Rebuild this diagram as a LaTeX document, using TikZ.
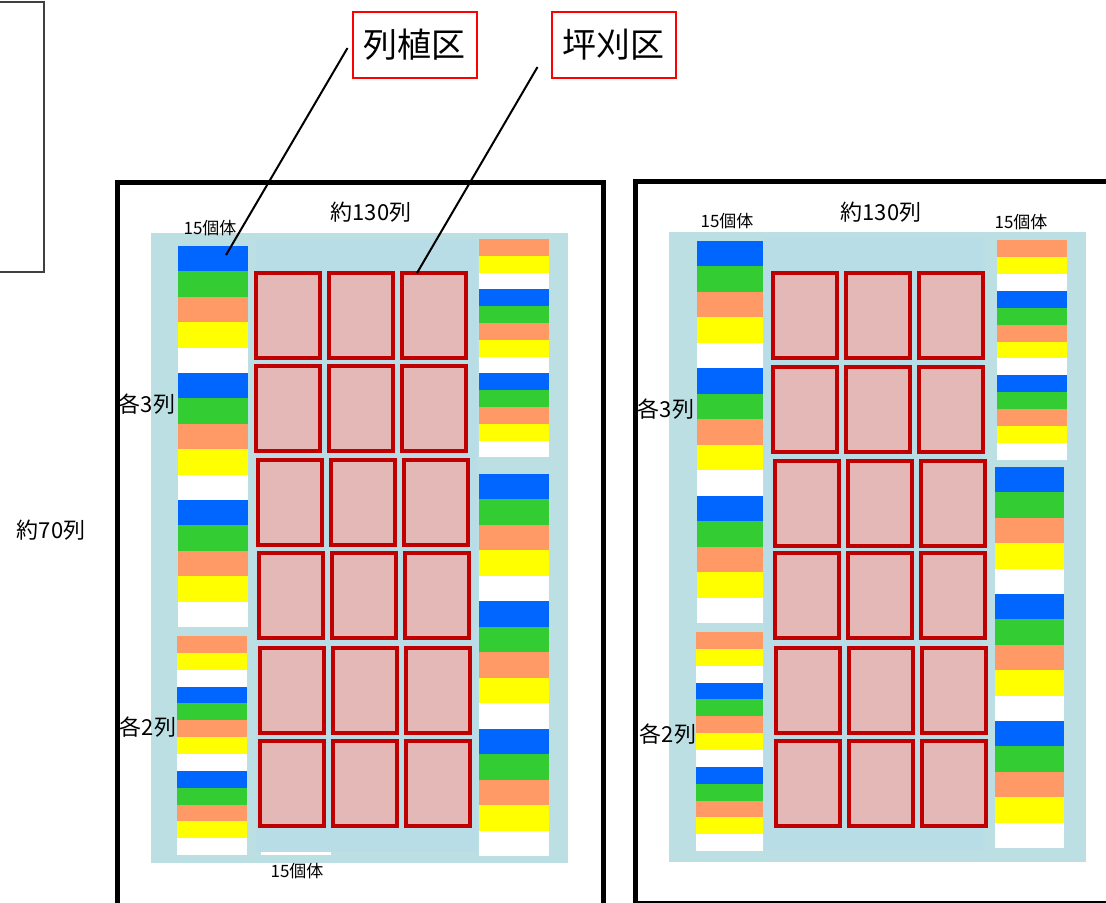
\documentclass[tikz,border=0pt]{standalone}
\usepackage{fontspec}
\setmainfont{Noto Sans CJK JP}
\usepackage{xcolor}
\definecolor{fdC0}{RGB}{0,102,255}
\definecolor{fdC1}{RGB}{51,204,51}
\definecolor{fdC2}{RGB}{255,153,102}
\definecolor{fdC3}{RGB}{255,255,0}
\definecolor{fdC4}{RGB}{255,255,255}
\definecolor{fdField}{RGB}{187,223,227}
\definecolor{fdGrass}{RGB}{184,221,230}
\definecolor{fdPlot}{RGB}{229,184,184}
\definecolor{fdPlotD}{RGB}{192,0,0}
\definecolor{fdRed}{RGB}{255,0,0}
\usetikzlibrary{positioning,calc}

\begin{document}
\begin{tikzpicture}[x=0.5pt,y=-0.5pt,
  frame/.style={line width=2.5pt},
  plotbox/.style={fill=fdPlot,draw=fdPlotD,line width=1.7pt},
  callout/.style={draw=fdRed,line width=1pt,minimum width=62pt,minimum height=33pt,font=\fontsize{17}{20}\selectfont},
  lbl/.style={font=\fontsize{11}{13}\selectfont,inner sep=0pt},
  cnt/.style={font=\fontsize{8.5}{10}\selectfont,inner sep=0pt},
  lead/.style={line width=1pt}]
  \useasboundingbox (0,0) rectangle (1106,902);
  \clip (0,0) rectangle (1106,902);
  \fill[white] (0,0) rectangle (1106,902);

  % frames
  \draw[black!75,line width=1pt] (-10,2) rectangle (44,272);
  \draw[frame] (117,182) rectangle (603,960);
  \draw[frame] (635,181) rectangle (1130,903);

  % fields
  \fill[fdField] (151,233) rectangle (568,863);
  \fill[fdGrass] (256,239) rectangle (477,852);
  \fill[fdField] (669,232) rectangle (1086,862);
  \fill[fdGrass] (764,238) rectangle (983,850);

  % tree rows: x/width/top/stripe height/count/first colour
  \foreach \xa/\w/\ya/\h/\n/\s in {178/70/246/25.4/15/0, 177/70/636/16.85/13/2,
      479/70/239/16.8/13/2, 479/70/474/25.47/15/0,
      697/66/241/25.47/15/0, 696/67/632/16.85/13/2,
      997/70/240/16.92/13/2, 995/69/467/25.4/15/0}{
    \foreach \i in {1,...,\n}{
      \pgfmathtruncatemacro\k{mod(\i-1+\s,5)}
      \fill[fdC\k] (\xa,\ya+\h*\i-\h) rectangle ++(\w,\h);
    }
  }

  % mown plots
  \foreach \xo/\yo in {256/273,256/366,258/460,259/553,260/648,260/741,
      773/273,773/367,775/461,775/553,776/648,776/741}
    \foreach \j in {0,1,2}
      \draw[plotbox] (\xo+73*\j,\yo) rectangle ++(64,85);

  \draw[white,line width=1.5pt] (261,853) -- (331,853);

  % labels
  \node[lbl] (len1) at (371,212) {約130列};
  \node[cnt] (num1) at (210,228) {15個体};
  \node[lbl] (row3a) at (147,404) {各3列};
  \node[lbl] (row2a) at (148,727) {各2列};
  \node[lbl] (wid) at (51,530) {約70列};
  \node[cnt] (num2) at (297,871) {15個体};
  \node[lbl] (len2) at (881,212) {約130列};
  \node[cnt] (num3) at (727,221) {15個体};
  \node[cnt] (num4) at (1021,222) {15個体};
  \node[lbl] (row3b) at (666,409) {各3列};
  \node[lbl] (row2b) at (668,734) {各2列};

  % callouts
  \node[callout] (retsu) at (414.5,45) {列植区};
  \node[callout] (tsubo) at (613.5,45) {坪刈区};
  \coordinate (retsuEnd) at (226,255);
  \coordinate (tsuboEnd) at (417,273);
  \draw[lead] ([xshift=-2pt,yshift=-1.5pt]retsu.west) -- (retsuEnd);
  \draw[lead] ([xshift=-6.5pt,yshift=-11pt]tsubo.west) -- (tsuboEnd);
\end{tikzpicture}
\end{document}
